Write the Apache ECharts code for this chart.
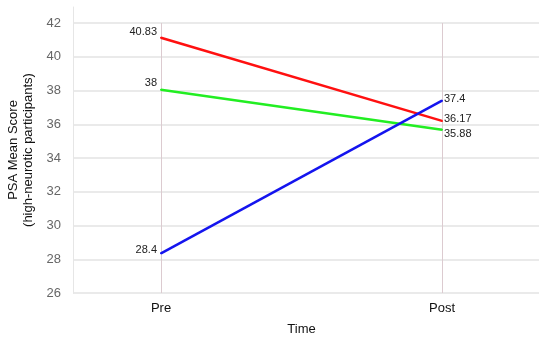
<!DOCTYPE html>
<html><head><meta charset="utf-8">
<script src="https://cdn.jsdelivr.net/npm/echarts@6/dist/echarts.min.js"></script>
<style>html,body{margin:0;padding:0;background:#fff}#c{width:550px;height:339px}</style>
</head><body><div id="c"></div>
<script>
const categories = ['Pre', 'Post'];
const redValues = [41.13, 36.2];
const greenValues = [38.04, 35.68];
const blueValues = [28.35, 37.4];
const redLabels = ['40.83', '36.17'];
const greenLabels = ['38', '35.88'];
const blueLabels = ['28.4', '37.4'];
const yTicks = {min: 26, max: 42, interval: 2};

const chart = echarts.init(document.getElementById('c'), null, {renderer: 'canvas'});
const font = 'Liberation Sans, Arial, sans-serif';

function items(vals, labels, offsets) {
  return vals.map((v, i) => ({
    value: v,
    label: {
      show: true,
      formatter: labels[i],
      position: i === 0 ? 'left' : 'right',
      offset: offsets[i],
      color: '#222', fontSize: 11, fontFamily: font, distance: i === 0 ? 3 : 1
    }
  }));
}
function series(name, color, vals, labels, offsets) {
  return {
    name, type: 'line', xAxisIndex: 1, yAxisIndex: 1,
    data: items(vals, labels, offsets),
    lineStyle: {color, width: 2.5},
    itemStyle: {color},
    symbol: 'circle', showSymbol: true, showAllSymbol: true, symbolSize: 2,
    label: {show: true},
    emphasis: {disabled: true}, silent: true, animation: false
  };
}

chart.setOption({
  animation: false,
  grid: [
    {left: 73, right: 11, top: 7, bottom: 46, outerBoundsMode: 'none', containLabel: false},
    {left: 161, right: 108, top: 23, bottom: 46, outerBoundsMode: 'none', containLabel: false}
  ],
  xAxis: [
    {gridIndex: 0, type: 'value', show: false, min: 0, max: 1},
    {gridIndex: 1, type: 'category', data: categories, boundaryGap: false,
      axisLine: {show: false}, axisTick: {show: false},
      axisLabel: {color: '#111', fontSize: 13, fontFamily: font, margin: 9},
      splitLine: {show: true, lineStyle: {color: '#dccbd0', width: 1}},
      name: 'Time', nameLocation: 'middle', nameGap: 30,
      nameTextStyle: {color: '#111', fontSize: 13, fontFamily: font}}
  ],
  yAxis: [
    {gridIndex: 0, type: 'value', min: yTicks.min, max: 42.95, interval: yTicks.interval,
      axisLine: {show: true, lineStyle: {color: '#e6e6e6'}},
      axisTick: {show: false},
      axisLabel: {color: '#666', fontSize: 13, fontFamily: font, margin: 12, showMaxLabel: false},
      splitLine: {show: true, showMaxLine: false, lineStyle: {color: '#e3e3e3', width: 1.5}},
      name: 'PSA Mean Score\n(high-neurotic participants)', nameLocation: 'middle', nameGap: 37,
      nameTextStyle: {color: '#111', fontSize: 13, fontFamily: font, lineHeight: 15}},
    {gridIndex: 1, type: 'value', min: yTicks.min, max: yTicks.max, interval: yTicks.interval,
      show: false, splitLine: {show: false}}
  ],
  series: [
    series('red', '#ff1010', redValues, redLabels, [[0, -6], [0, -2]]),
    series('green', '#22ee22', greenValues, greenLabels, [[0, -7], [0, 4]]),
    series('blue', '#1414ee', blueValues, blueLabels, [[0, -3], [0, -2]])
  ]
});
</script></body></html>
